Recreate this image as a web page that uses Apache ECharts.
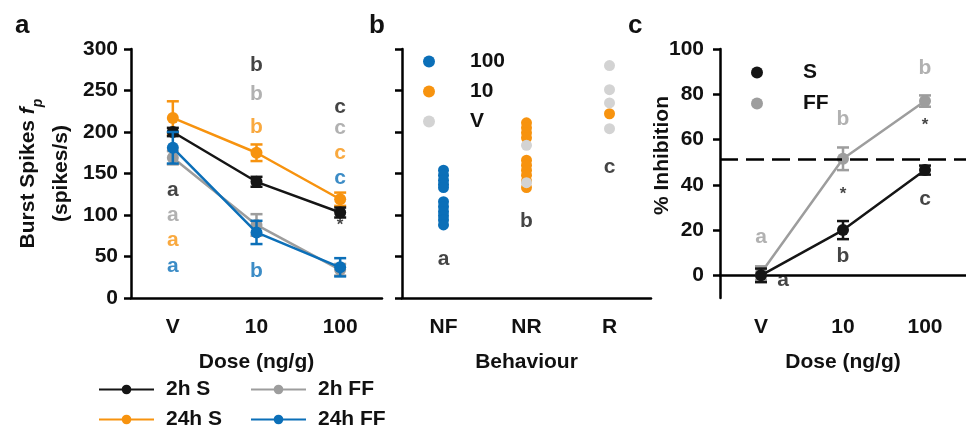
<!DOCTYPE html>
<html>
<head>
<meta charset="utf-8">
<script src="https://cdn.jsdelivr.net/npm/echarts@6/dist/echarts.min.js"></script>
<style>
  html, body { margin: 0; padding: 0; background: #fff; }
  #main { width: 966px; height: 429px; }
</style>
</head>
<body>
<div id="main"></div>
<script>
// ---- data ----
var doses = ['V', '10', '100'];
var behaviours = ['NF', 'NR', 'R'];

// panel a: burst spikes (mean, sem)
var s2h = [200, 140, 103];
var s2hErr = [5, 6, 6];
var ff2h = [169, 88, 34];
var ff2hErr = [8, 13, 7];
var s24h = [217, 175, 119];
var s24hErr = [20, 10, 8];
var ff24h = [181, 79, 37];
var ff24hErr = [19, 14, 11];

// panel a letters [dose index, y, text]
var lettersBlackA = [[0, 130, 'a'], [1, 281, 'b'], [2, 230, 'c']];
var lettersGrayA = [[0, 100, 'a'], [1, 245, 'b'], [2, 204, 'c']];
var lettersOrangeA = [[0, 70, 'a'], [1, 206, 'b'], [2, 174, 'c']];
var lettersBlueA = [[0, 38, 'a'], [1, 32, 'b'], [2, 144, 'c']];
var starsA = [[2, 88, '*']];

// panel b: individual cells [behaviour index, spikes]
var dose100Pts = [[0, 154], [0, 148], [0, 142], [0, 137], [0, 133], [0, 116], [0, 110], [0, 104], [0, 99], [0, 94], [0, 88]];
var dose10Pts = [[1, 211], [1, 205], [1, 199], [1, 193], [1, 166], [1, 160], [1, 154], [1, 148], [1, 141], [1, 133], [2, 222]];
var doseVPts = [[1, 184], [1, 139], [2, 280], [2, 251], [2, 235], [2, 204]];
var lettersB = [[0, 47, 'a'], [1, 92, 'b'], [2, 157, 'c']];

// panel c: % inhibition (mean, sem)
var inhS = [0, 20, 46.5];
var inhSErr = [3, 4, 2];
var inhFF = [1, 51.5, 77];
var inhFFErr = [3, 5, 2.5];
var halfLine = 51.4;
var lettersBlackC = [[1, 8.5, 'b'], [2, 33.5, 'c']];
var starsC = [[1, 36, '*'], [2, 66.5, '*']];
var lettersBlackCShift = [[0, -2, 'a']];
var lettersGrayC = [[0, 17, 'a'], [1, 69, 'b'], [2, 91.5, 'b']];

var BLACK = '#151515', GRAY = '#9d9d9d', ORANGE = '#f7930f', BLUE = '#0b6fb8', LIGHT = '#d3d3d3';
var FONT = 'Liberation Sans, Arial, sans-serif';

function withErr(mean, err) {
  return mean.map(function (m, i) { return [i, m - err[i], m + err[i]]; });
}

function errSeries(name, data, color, xi, yi, z) {
  return {
    type: 'custom', name: name, xAxisIndex: xi, yAxisIndex: yi, z: z,
    data: data,
    renderItem: function (params, api) {
      var lo = api.coord([api.value(0), api.value(1)]);
      var hi = api.coord([api.value(0), api.value(2)]);
      var w = 6;
      var st = { stroke: color, lineWidth: 2.5 };
      return {
        type: 'group', children: [
          { type: 'line', shape: { x1: lo[0], y1: lo[1], x2: hi[0], y2: hi[1] }, style: st },
          { type: 'line', shape: { x1: hi[0] - w, y1: hi[1], x2: hi[0] + w, y2: hi[1] }, style: st },
          { type: 'line', shape: { x1: lo[0] - w, y1: lo[1], x2: lo[0] + w, y2: lo[1] }, style: st }
        ]
      };
    }
  };
}

function lineSeries(name, data, color, xi, yi, z) {
  return {
    type: 'line', name: name, xAxisIndex: xi, yAxisIndex: yi, z: z,
    data: data, symbol: 'circle', symbolSize: 12,
    itemStyle: { color: color }, lineStyle: { color: color, width: 2.5 },
    animation: false
  };
}

function textSeries(data, color, xi, yi, size, offset) {
  return {
    type: 'scatter', xAxisIndex: xi, yAxisIndex: yi, symbolSize: 0, z: 20,
    data: data, silent: true,
    label: {
      show: true, position: 'inside', offset: offset || [0, 0],
      formatter: function (p) { return p.data[2]; },
      color: color, fontSize: size || 21, fontWeight: 'bold', fontFamily: FONT
    }
  };
}

function dotSeries(name, data, color) {
  return {
    type: 'scatter', name: name, xAxisIndex: 1, yAxisIndex: 1,
    data: data, symbolSize: 11, itemStyle: { color: color, opacity: 1 }
  };
}

var axisLine = { lineStyle: { color: '#000', width: 2.5 } };
var axisTick = { inside: false, length: 7, lineStyle: { color: '#000', width: 2.5 } };
var labelStyle = { color: '#111', fontSize: 21, fontWeight: 'bold', fontFamily: FONT };

function catAxis(gi, cats, name) {
  return {
    type: 'category', gridIndex: gi, data: cats, boundaryGap: true,
    axisLine: axisLine,
    axisTick: Object.assign({ alignWithLabel: true }, axisTick),
    axisLabel: Object.assign({ margin: 19 }, labelStyle),
    name: name, nameLocation: 'middle', nameGap: 54,
    nameTextStyle: labelStyle
  };
}

var legendText = function (pad) {
  return Object.assign({ padding: [0, 0, 0, pad] }, labelStyle);
};

var chart = echarts.init(document.getElementById('main'), null, { renderer: 'canvas' });
chart.setOption({
  backgroundColor: '#fff',
  animation: false,
  textStyle: { fontFamily: FONT },
  graphic: [
    { type: 'text', left: 15, top: 13, style: { text: 'a', fontSize: 26, fontWeight: 'bold', fontFamily: FONT, fill: '#111' } },
    { type: 'text', left: 369, top: 13, style: { text: 'b', fontSize: 26, fontWeight: 'bold', fontFamily: FONT, fill: '#111' } },
    { type: 'text', left: 628, top: 13, style: { text: 'c', fontSize: 26, fontWeight: 'bold', fontFamily: FONT, fill: '#111' } }
  ],
  grid: [
    { left: 131, top: 49, width: 251, height: 249 },
    { left: 402, top: 49, width: 249, height: 249 },
    { left: 720, top: 49, width: 249, height: 249 }
  ],
  xAxis: [
    catAxis(0, doses, 'Dose (ng/g)'),
    catAxis(1, behaviours, 'Behaviour'),
    catAxis(2, doses, 'Dose (ng/g)')
  ],
  yAxis: [
    {
      type: 'value', gridIndex: 0, min: 0, max: 300, interval: 50,
      axisLine: Object.assign({ show: true }, axisLine), axisTick: Object.assign({ show: true }, axisTick),
      splitLine: { show: false },
      axisLabel: Object.assign({ margin: 13 }, labelStyle),
      name: '{n|Burst Spikes }{f|f}{p|p}\n{n|(spikes/s)}',
      nameLocation: 'middle', nameRotate: 90, nameGap: 53,
      nameTextStyle: {
        lineHeight: 33,
        rich: {
          n: { fontSize: 21, fontWeight: 'bold', fontFamily: FONT, color: '#111', lineHeight: 33 },
          f: { fontSize: 21, fontWeight: 'bold', fontStyle: 'italic', fontFamily: FONT, color: '#111', lineHeight: 33 },
          p: { fontSize: 14, fontWeight: 'bold', fontStyle: 'italic', fontFamily: FONT, color: '#111', lineHeight: 12, verticalAlign: 'bottom' }
        }
      }
    },
    {
      type: 'value', gridIndex: 1, min: 0, max: 300, interval: 50,
      axisLine: Object.assign({ show: true }, axisLine), axisTick: Object.assign({ show: true }, axisTick),
      splitLine: { show: false }, axisLabel: { show: false }
    },
    {
      type: 'value', gridIndex: 2, min: -10, max: 100,
      axisLine: Object.assign({ show: true }, axisLine),
      axisTick: Object.assign({ show: true, customValues: [0, 20, 40, 60, 80, 100] }, axisTick),
      splitLine: { show: false },
      axisLabel: Object.assign({ margin: 16, customValues: [0, 20, 40, 60, 80, 100] }, labelStyle),
      name: '% Inhibition', nameLocation: 'middle', nameRotate: 90, nameGap: 47,
      nameMoveOverlap: false,
      nameTextStyle: Object.assign({ padding: [0, 0, 0, 36] }, labelStyle)
    }
  ],
  legend: [
    {
      data: ['2h S', '24h S'], orient: 'vertical', left: 98, top: 379, height: 60, padding: 0,
      itemWidth: 55, itemHeight: 12, itemGap: 9, textStyle: legendText(7), selectedMode: false
    },
    {
      data: ['2h FF', '24h FF'], orient: 'vertical', left: 250, top: 379, height: 60, padding: 0,
      itemWidth: 55, itemHeight: 12, itemGap: 9, textStyle: legendText(7), selectedMode: false
    },
    {
      data: [{ name: '100', icon: 'circle' }, { name: '10', icon: 'circle' }, { name: 'V', icon: 'circle' }],
      orient: 'vertical', left: 423, top: 51, padding: 0,
      itemWidth: 12, itemHeight: 12, itemGap: 9, textStyle: legendText(30), selectedMode: false
    },
    {
      data: [{ name: 'S', icon: 'circle' }, { name: 'FF', icon: 'circle' }],
      orient: 'vertical', left: 751, top: 62, padding: 0,
      itemWidth: 12, itemHeight: 12, itemGap: 10, textStyle: legendText(35), selectedMode: false
    }
  ],
  series: [
    // panel a
    errSeries('e1', withErr(ff2h, ff2hErr), GRAY, 0, 0, 2),
    lineSeries('2h FF', ff2h, GRAY, 0, 0, 2),
    errSeries('e2', withErr(s24h, s24hErr), ORANGE, 0, 0, 3),
    lineSeries('24h S', s24h, ORANGE, 0, 0, 3),
    errSeries('e3', withErr(s2h, s2hErr), BLACK, 0, 0, 4),
    lineSeries('2h S', s2h, BLACK, 0, 0, 4),
    errSeries('e4', withErr(ff24h, ff24hErr), BLUE, 0, 0, 5),
    lineSeries('24h FF', ff24h, BLUE, 0, 0, 5),
    textSeries(lettersBlackA, BLACK, 0, 0),
    textSeries(lettersGrayA, GRAY, 0, 0),
    textSeries(lettersOrangeA, ORANGE, 0, 0),
    textSeries(lettersBlueA, BLUE, 0, 0),
    textSeries(starsA, BLACK, 0, 0, 17),
    // panel b
    dotSeries('100', dose100Pts, BLUE),
    dotSeries('10', dose10Pts, ORANGE),
    dotSeries('V', doseVPts, LIGHT),
    textSeries(lettersB, BLACK, 1, 1),
    // panel c
    errSeries('e5', withErr(inhFF, inhFFErr), GRAY, 2, 2, 2),
    Object.assign(lineSeries('FF', inhFF, GRAY, 2, 2, 2), {
      markLine: {
        silent: true, symbol: 'none', label: { show: false },
        lineStyle: { color: '#000', width: 2.5, type: [18, 8] },
        data: [{ yAxis: halfLine }]
      }
    }),
    errSeries('e6', withErr(inhS, inhSErr), BLACK, 2, 2, 3),
    lineSeries('S', inhS, BLACK, 2, 2, 3),
    textSeries(lettersGrayC, GRAY, 2, 2),
    textSeries(lettersBlackC, BLACK, 2, 2),
    textSeries(starsC, BLACK, 2, 2, 17),
    textSeries(lettersBlackCShift, BLACK, 2, 2, 21, [22, 0])
  ]
});
</script>
</body>
</html>
